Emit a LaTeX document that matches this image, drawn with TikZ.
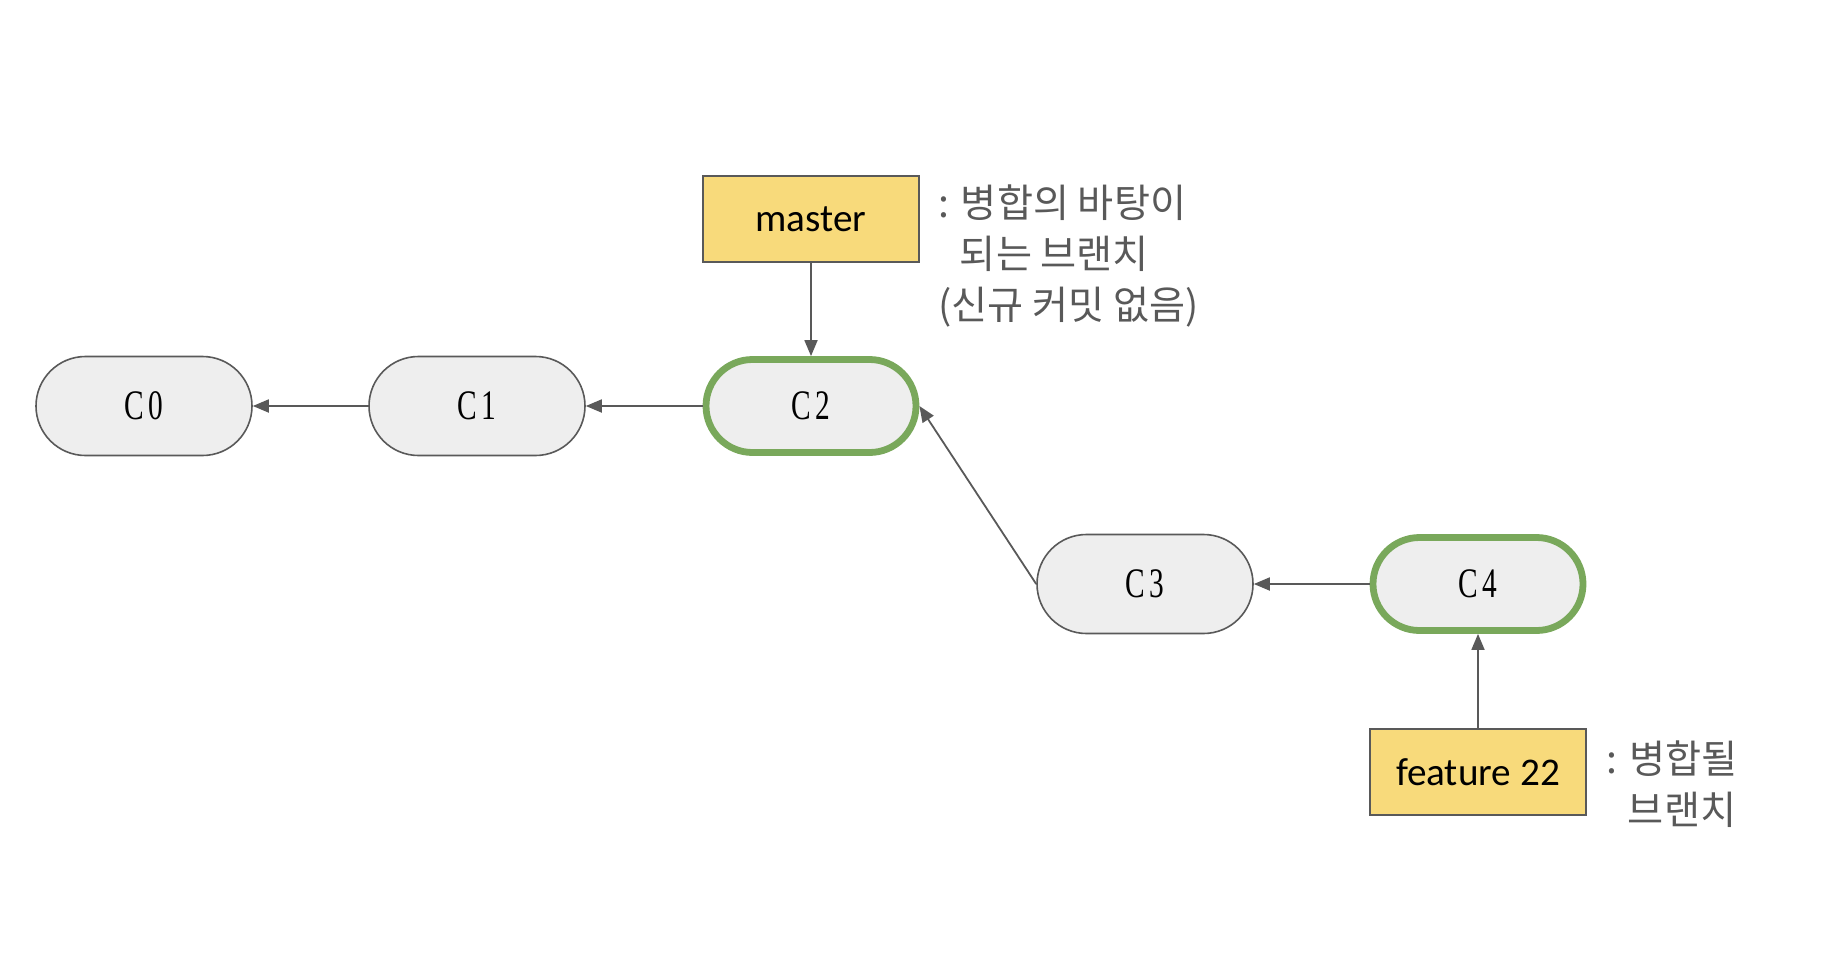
\documentclass[tikz,border=0pt]{standalone}
\usepackage{graphicx}
\usepackage{fontspec}
\setmainfont{Carlito}
\newfontfamily\krfont{Noto Sans CJK KR}
\newfontfamily\commitfont{Liberation Serif}
\usetikzlibrary{shapes.misc,arrows.meta}
\definecolor{linegray}{HTML}{595959}
\definecolor{nodefill}{HTML}{EEEEEE}
\definecolor{headgreen}{HTML}{79A85B}
\definecolor{branchyellow}{HTML}{F8DA7B}
\newcommand\clabel[2]{\scalebox{0.7}[1]{#1\hspace{3pt}#2}}
\begin{document}
\begin{tikzpicture}[x=0.5pt,y=-0.5pt,
  commit/.style={rounded rectangle, draw=linegray, line width=0.8pt, fill=nodefill,
    minimum width=108pt, minimum height=49.5pt, inner sep=0pt,
    font=\commitfont\fontsize{21}{21}\selectfont},
  headcommit/.style={commit, draw=headgreen, line width=3.4pt, minimum width=105pt, minimum height=46.5pt},
  branch/.style={rectangle, draw=linegray, line width=0.8pt, fill=branchyellow,
    minimum width=108pt, minimum height=43pt, inner sep=0pt, font=\fontsize{19.6}{19.6}\selectfont},
  note/.style={font=\krfont\fontsize{19.6}{25.5}\selectfont, text=linegray, align=left,
    anchor=north west, inner sep=0pt},
  link/.style={draw=linegray, line width=0.9pt, -{Triangle[length=8pt,width=6.5pt]}}]
\useasboundingbox (0,0) rectangle (1836,958);
\node[commit] (c0) at (144,406) {\clabel{C}{0}};
\node[commit] (c1) at (477,406) {\clabel{C}{1}};
\node[headcommit] (c2) at (811,406) {\clabel{C}{2}};
\node[commit] (c3) at (1145,584) {\clabel{C}{3}};
\node[headcommit] (c4) at (1478,584) {\clabel{C}{4}};
\node[branch] (master) at (811,219) {master};
\node[branch] (feature) at (1478,772) {feature 22};
\node[note] (mnote) at (938,184) {: 병합의 바탕이\\\hspace{0.55em}되는 브랜치\\(신규 커밋 없음)};
\node[note] (fnote) at (1606,740) {: 병합될\\\hspace{0.55em}브랜치};
\draw[link] (c1.west) -- (c0.east);
\draw[link] (c2.west) -- (c1.east);
\draw[link] (c3.west) -- (c2.east);
\draw[link] (c4.west) -- (c3.east);
\draw[link] (master.south) -- (c2.north);
\draw[link] (feature.north) -- (c4.south);
\end{tikzpicture}
\end{document}
